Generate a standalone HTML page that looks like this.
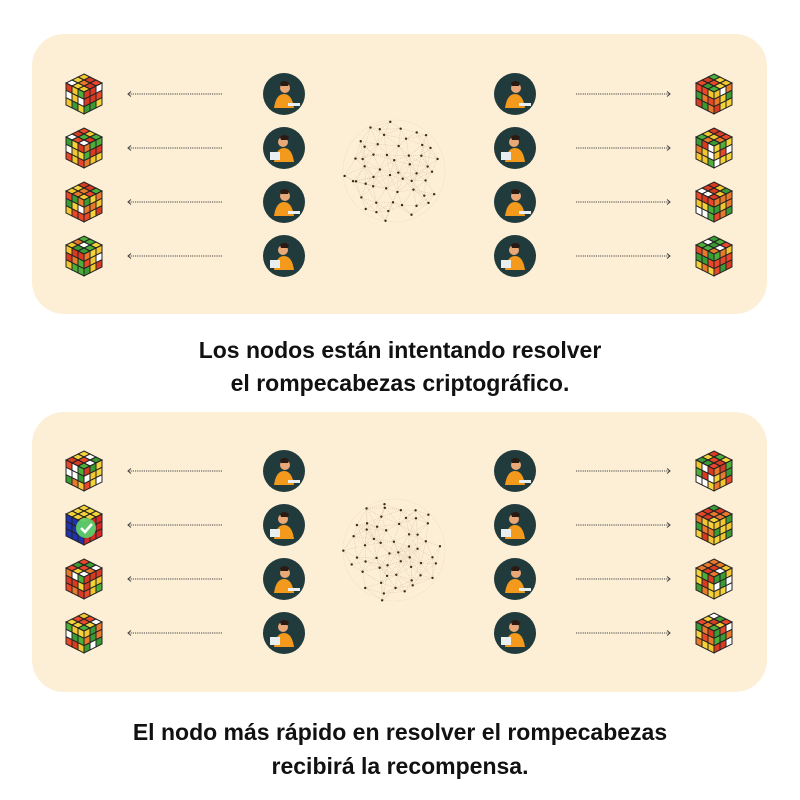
<!DOCTYPE html>
<html><head><meta charset="utf-8"><style>
html,body{margin:0;padding:0;background:#fff;width:800px;height:800px;overflow:hidden}
.t{position:absolute;left:0;width:800px;text-align:center;font:bold 23px "Liberation Sans",sans-serif;color:#111}
</style></head><body>
<svg id="s" width="800" height="800" style="position:absolute;left:0;top:0" xmlns="http://www.w3.org/2000/svg">
<rect x="32" y="34" width="735" height="280" rx="32" fill="#fdefd6"/>
<rect x="32" y="412" width="735" height="280" rx="32" fill="#fdefd6"/>
</svg>
<div class="t" style="top:337px">Los nodos están intentando resolver</div>
<div class="t" style="top:370px">el rompecabezas criptográfico.</div>
<div class="t" style="top:719px">El nodo más rápido en resolver el rompecabezas</div>
<div class="t" style="top:753px">recibirá la recompensa.</div>
<script>
var s=document.getElementById('s'),NS='http://www.w3.org/2000/svg';
function el(t,a){var e=document.createElementNS(NS,t);for(var k in a)e.setAttribute(k,a[k]);s.appendChild(e);return e}
var st=12345;function r(){st|=0;st=st+0x6D2B79F5|0;var t=Math.imul(st^st>>>15,1|st);t=t+Math.imul(t^t>>>7,61|t)^t;return((t^t>>>14)>>>0)/4294967296}
var cols=['#e8472a','#4caf3a','#f4d23a','#ffffff','#e8792a','#3a9b35','#d93a22','#f2c630'];
function face(o,u,v,fc){for(var i=0;i<3;i++)for(var j=0;j<3;j++){var p=[[i,j],[i+1,j],[i+1,j+1],[i,j+1]].map(function(q){return (o[0]+u[0]*q[0]/3+v[0]*q[1]/3)+','+(o[1]+u[1]*q[0]/3+v[1]*q[1]/3)}).join(' ');el('polygon',{points:p,fill:fc?fc:cols[Math.floor(r()*cols.length)],stroke:'#222','stroke-width':1})}}
function cube(cx,cy,solved){var x=cx-18,y=cy-20;
face([x+18,y],[18,9],[-18,9],solved?'#f3d23a':null);
face([x,y+9],[18,9],[0,22],solved?'#2233aa':null);
face([x+18,y+18],[18,-9],[0,22],solved?'#d62828':null);
if(solved){el('circle',{cx:cx+2,cy:cy+3,r:10,fill:'#5ccf6a',opacity:0.95});el('path',{d:'M'+(cx-3)+' '+(cy+3)+'l4 4l7-8',stroke:'#fff','stroke-width':2.5,fill:'none'})}}
function person(cx,cy,v){el('circle',{cx:cx,cy:cy,r:21,fill:'#213a3c'});
el('path',{d:'M'+(cx-10)+' '+(cy+14)+'q2-14 10-14q8 0 10 14z',fill:'#f39a1c'});
el('circle',{cx:cx+(v?-1:1),cy:cy-6,r:5,fill:'#e8a878'});
el('path',{d:'M'+(cx-4)+' '+(cy-11)+'q4-4 9 0l-1 3h-7z',fill:'#2a1a12'});
if(v)el('rect',{x:cx-14,y:cy+4,width:10,height:8,fill:'#e9eef0'});else el('rect',{x:cx+4,y:cy+9,width:12,height:3,fill:'#e9eef0'});}
function arrow(x1,x2,y){el('line',{x1:x1,y1:y,x2:x2,y2:y,stroke:'#444','stroke-width':1,'stroke-dasharray':'1.2 1'});
var d=x2>x1?-1:1;el('path',{d:'M'+(x2+3*d)+' '+(y-2.5)+'L'+x2+' '+y+'L'+(x2+3*d)+' '+(y+2.5),stroke:'#444','stroke-width':1,fill:'none'})}
function net(cx,cy){var P=[],N=55;for(var i=0;i<N;i++){var a=i*2.39996+r()*0.3,d=Math.sqrt((i+0.5)/N)*50;P.push([cx+Math.cos(a)*d+(r()-0.5)*5,cy+Math.sin(a)*d+(r()-0.5)*5])}
el('circle',{cx:cx,cy:cy,r:51,fill:'none',stroke:'#e6d6bc','stroke-width':0.6,'stroke-dasharray':'1 1'});
for(var i=0;i<P.length;i++)for(var j=i+1;j<P.length;j++){var dx=P[i][0]-P[j][0],dy=P[i][1]-P[j][1];if(dx*dx+dy*dy<500)el('line',{x1:P[i][0],y1:P[i][1],x2:P[j][0],y2:P[j][1],stroke:'#d8c8ae','stroke-width':0.6,'stroke-dasharray':'1 1'})}
P.forEach(function(p){el('circle',{cx:p[0],cy:p[1],r:1.2,fill:'#3a2a1a'})})}
[[94,148,202,256],[471,525,579,633]].forEach(function(rows,k){rows.forEach(function(y,i){
cube(84,y,k==1&&i==1);cube(714,y,false);person(284,y,i%2==1);person(515,y,i%2==1);
arrow(222,128,y);arrow(576,670,y)});net(394,k?550:171)});
</script>
</body></html>
